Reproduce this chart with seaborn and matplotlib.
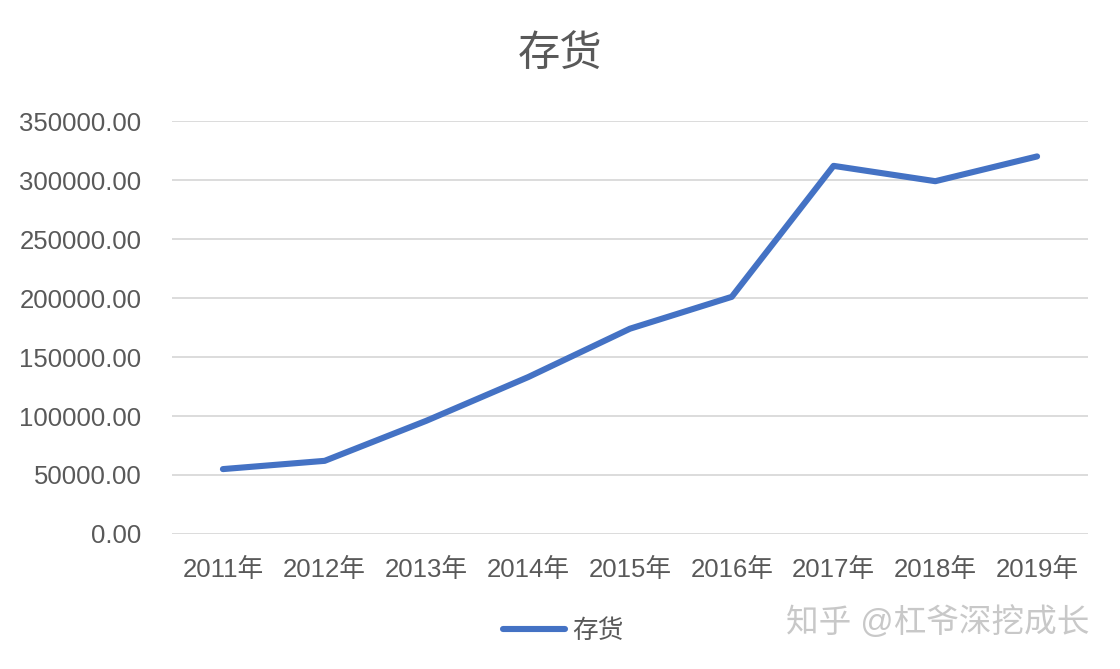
import matplotlib
matplotlib.use("Agg")
import matplotlib.pyplot as plt
import seaborn as sns
import pandas as pd
from matplotlib.ticker import FuncFormatter, MultipleLocator

# data
years = ["2011年", "2012年", "2013年", "2014年", "2015年",
         "2016年", "2017年", "2018年", "2019年"]
inventory = [55000, 62000, 96000, 133000, 174000, 201000, 312000, 299000, 320000]
series_name = "存货"

df = pd.DataFrame({"year": years, "value": inventory})

sns.set_theme(style="white")
plt.rcParams['font.family'] = ['Liberation Sans', 'Noto Sans CJK SC', 'DejaVu Sans']

text_gray = "#595959"
grid_gray = "#D9D9D9"
blue = "#4472C4"

fig = plt.figure(figsize=(11.2, 6.69), dpi=100)
ax = fig.add_axes([0.1536, 0.2018, 0.8178, 0.6173])

sns.lineplot(data=df, x="year", y="value", ax=ax, color=blue,
             linewidth=4.4, sort=False, label=series_name,
             solid_capstyle="round", solid_joinstyle="round", legend=False)

ax.set_xlim(-0.5, len(years) - 0.5)
ax.set_ylim(0, 350000)
ax.yaxis.set_major_locator(MultipleLocator(50000))
ax.yaxis.set_major_formatter(FuncFormatter(lambda v, p: f"{v:.2f}"))

ax.grid(axis="y", color=grid_gray, linewidth=1.3)
ax.set_axisbelow(True)
for s in ax.spines.values():
    s.set_visible(False)

ax.tick_params(axis="both", length=0, labelsize=18.5, labelcolor=text_gray)
ax.tick_params(axis="y", pad=22)
ax.tick_params(axis="x", pad=17)
ax.set_xlabel("")
ax.set_ylabel("")

fig.text(0.5, 0.918, series_name, ha="center", va="center",
         fontsize=30.5, color=text_gray)

handles, labels = ax.get_legend_handles_labels()
leg = fig.legend(handles, labels, loc="center", bbox_to_anchor=(0.503, 0.057),
                 frameon=False, fontsize=18.5, handlelength=2.4,
                 handletextpad=0.3)
for t in leg.get_texts():
    t.set_color(text_gray)

# watermark
fig.text(0.973, 0.07, "知乎 @杠爷深挖成长", ha="right", va="center",
         fontsize=23.5, color="#C8C8C8")

fig.savefig("out.png", dpi=100)
